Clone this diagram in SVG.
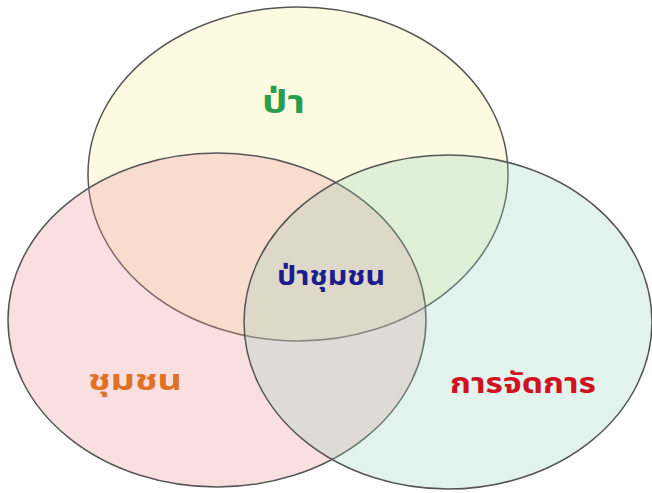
<svg xmlns="http://www.w3.org/2000/svg" width="652" height="493" viewBox="0 0 652 493">
<style>
.set{stroke:#555;stroke-width:1.5;}
.lbl{font-family:"Noto Sans Thai","Noto Sans","DejaVu Sans",sans-serif;font-weight:bold;}
</style>
<rect width="652" height="493" fill="#fff"/>
<g id="pa"><ellipse class="set" cx="298" cy="174" rx="210" ry="167" fill="rgb(248,244,180)" fill-opacity="0.38"/></g>
<g id="chumchon"><ellipse class="set" cx="217" cy="320" rx="209" ry="167" fill="rgb(240,150,155)" fill-opacity="0.3"/></g>
<g id="kanjatkan"><ellipse class="set" cx="448" cy="322" rx="204" ry="167" fill="rgb(150,210,185)" fill-opacity="0.28"/></g>
<g id="labels">
<text class="lbl" x="262" y="113" font-size="32" fill="#2a9e4e" textLength="43" lengthAdjust="spacingAndGlyphs">ป่า</text>
<text class="lbl" x="277" y="285" font-size="26" fill="#1c1c8c" textLength="108" lengthAdjust="spacingAndGlyphs">ป่าชุมชน</text>
<text class="lbl" x="88" y="390" font-size="29" fill="#e07024" textLength="94" lengthAdjust="spacingAndGlyphs">ชุมชน</text>
<text class="lbl" x="450" y="393" font-size="29" fill="#d0121e" textLength="146" lengthAdjust="spacingAndGlyphs">การจัดการ</text>
</g>
</svg>
